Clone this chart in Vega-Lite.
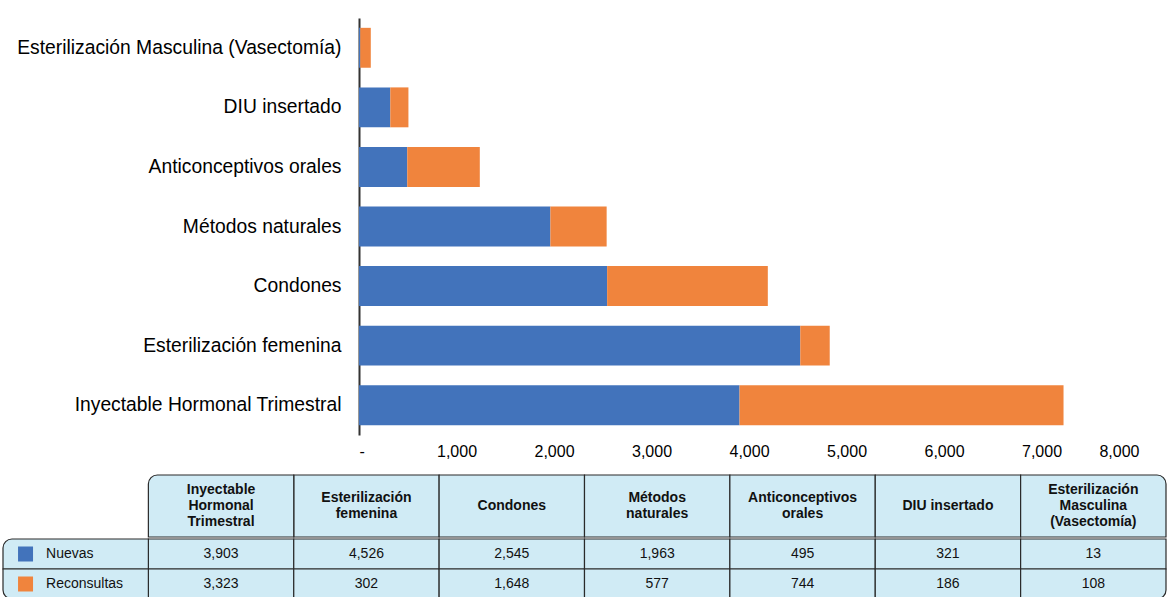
{
  "$schema": "https://vega.github.io/schema/vega-lite/v6.json",
  "padding": {"top": 18, "left": 2, "right": 2, "bottom": 0},
  "background": "white",
  "config": {
    "view": {"stroke": null},
    "font": "Liberation Sans",
    "text": {"font": "Liberation Sans"},
    "rect": {"fill": "#D0EBF5", "stroke": "#2a2a2a", "strokeWidth": 1.2}
  },
  "datasets": {
    "bars": [
      {"metodo": "Inyectable Hormonal Trimestral", "serie": "Nuevas", "valor": 3903},
      {"metodo": "Inyectable Hormonal Trimestral", "serie": "Reconsultas", "valor": 3323},
      {"metodo": "Esterilización femenina", "serie": "Nuevas", "valor": 4526},
      {"metodo": "Esterilización femenina", "serie": "Reconsultas", "valor": 302},
      {"metodo": "Condones", "serie": "Nuevas", "valor": 2545},
      {"metodo": "Condones", "serie": "Reconsultas", "valor": 1648},
      {"metodo": "Métodos naturales", "serie": "Nuevas", "valor": 1963},
      {"metodo": "Métodos naturales", "serie": "Reconsultas", "valor": 577},
      {"metodo": "Anticonceptivos orales", "serie": "Nuevas", "valor": 495},
      {"metodo": "Anticonceptivos orales", "serie": "Reconsultas", "valor": 744},
      {"metodo": "DIU insertado", "serie": "Nuevas", "valor": 321},
      {"metodo": "DIU insertado", "serie": "Reconsultas", "valor": 186},
      {"metodo": "Esterilización Masculina (Vasectomía)", "serie": "Nuevas", "valor": 13},
      {"metodo": "Esterilización Masculina (Vasectomía)", "serie": "Reconsultas", "valor": 108}
    ],
    "methods": [
      {"metodo": "Inyectable Hormonal Trimestral", "encabezado": "Inyectable\nHormonal\nTrimestral"},
      {"metodo": "Esterilización femenina", "encabezado": "Esterilización\nfemenina"},
      {"metodo": "Condones", "encabezado": "Condones"},
      {"metodo": "Métodos naturales", "encabezado": "Métodos\nnaturales"},
      {"metodo": "Anticonceptivos orales", "encabezado": "Anticonceptivos\norales"},
      {"metodo": "DIU insertado", "encabezado": "DIU insertado"},
      {"metodo": "Esterilización Masculina (Vasectomía)", "encabezado": "Esterilización\nMasculina\n(Vasectomía)"}
    ],
    "series": [
      {"serie": "Nuevas"},
      {"serie": "Reconsultas"}
    ]
  },
  "spacing": 15,
  "vconcat": [
    {
      "width": 780,
      "height": 417,
      "data": {"name": "bars"},
      "mark": {"type": "bar"},
      "encoding": {
        "y": {
          "field": "metodo",
          "type": "nominal",
          "sort": [
            "Esterilización Masculina (Vasectomía)",
            "DIU insertado",
            "Anticonceptivos orales",
            "Métodos naturales",
            "Condones",
            "Esterilización femenina",
            "Inyectable Hormonal Trimestral"
          ],
          "scale": {"paddingInner": 0.33, "paddingOuter": 0.165},
          "axis": {
            "title": null,
            "domainColor": "#333333",
            "domainWidth": 2,
            "ticks": false,
            "labelPadding": 18,
            "labelFontSize": 19.3,
            "labelColor": "#000000",
            "labelFont": "Liberation Sans",
            "labelLimit": 400,
            "minExtent": 356,
            "maxExtent": 356
          }
        },
        "x": {
          "field": "valor",
          "type": "quantitative",
          "aggregate": "sum",
          "stack": "zero",
          "scale": {"domain": [0, 8000], "nice": false},
          "axis": {
            "title": null,
            "domain": false,
            "ticks": false,
            "grid": false,
            "values": [0, 1000, 2000, 3000, 4000, 5000, 6000, 7000, 8000],
            "labelExpr": "datum.value == 0 ? '-' : format(datum.value, ',')",
            "labelFontSize": 16,
            "labelColor": "#000000",
            "labelPadding": 8,
            "labelFont": "Liberation Sans"
          }
        },
        "color": {
          "field": "serie",
          "type": "nominal",
          "scale": {"domain": ["Nuevas", "Reconsultas"], "range": ["#4273BB", "#F0843D"]},
          "legend": null
        },
        "order": {"field": "serie", "sort": "ascending"}
      }
    },
    {
      "spacing": 0,
      "vconcat": [
        {
          "width": 807,
          "height": 62,
          "data": {"name": "methods"},
          "encoding": {
            "x": {
              "field": "metodo",
              "type": "nominal",
              "sort": null,
              "scale": {
                "domain": ["__", "Inyectable Hormonal Trimestral", "Esterilización femenina", "Condones", "Métodos naturales", "Anticonceptivos orales", "DIU insertado", "Esterilización Masculina (Vasectomía)"],
                "range": [-356, 807],
                "paddingInner": 0,
                "paddingOuter": 0
              },
              "axis": null
            }
          },
          "layer": [
            {
              "transform": [{"filter": "datum.metodo != 'Inyectable Hormonal Trimestral' && datum.metodo != 'Esterilización Masculina (Vasectomía)'"}],
              "mark": {"type": "rect"},
              "encoding": {}
            },
            {
              "transform": [{"filter": "datum.metodo == 'Inyectable Hormonal Trimestral'"}],
              "mark": {"type": "rect", "cornerRadiusTopLeft": 9},
              "encoding": {}
            },
            {
              "transform": [{"filter": "datum.metodo == 'Esterilización Masculina (Vasectomía)'"}],
              "mark": {"type": "rect", "cornerRadiusTopRight": 9},
              "encoding": {}
            },
            {
              "transform": [{"filter": "length(split(datum.encabezado, '\\n')) == 1"}],
              "mark": {"type": "text", "fontWeight": "bold", "fontSize": 14, "lineBreak": "\n", "lineHeight": 16, "baseline": "middle", "color": "#111111"},
              "encoding": {"text": {"field": "encabezado"}}
            },
            {
              "transform": [{"filter": "length(split(datum.encabezado, '\\n')) == 2"}],
              "mark": {"type": "text", "fontWeight": "bold", "fontSize": 14, "lineBreak": "\n", "lineHeight": 16, "baseline": "middle", "dy": -8, "color": "#111111"},
              "encoding": {"text": {"field": "encabezado"}}
            },
            {
              "transform": [{"filter": "length(split(datum.encabezado, '\\n')) == 3"}],
              "mark": {"type": "text", "fontWeight": "bold", "fontSize": 14, "lineBreak": "\n", "lineHeight": 16, "baseline": "middle", "dy": -16, "color": "#111111"},
              "encoding": {"text": {"field": "encabezado"}}
            }
          ]
        },
        {
          "width": 807,
          "height": 60,
          "encoding": {
            "y": {
              "field": "serie",
              "type": "nominal",
              "scale": {"domain": ["Nuevas", "Reconsultas"], "paddingInner": 0, "paddingOuter": 0},
              "axis": null
            }
          },
          "layer": [
            {
              "data": {"name": "bars"},
              "transform": [{"filter": "!(datum.metodo == 'Esterilización Masculina (Vasectomía)' && datum.serie == 'Reconsultas')"}],
              "mark": {"type": "rect"},
              "encoding": {
                "x": {
                  "field": "metodo",
                  "type": "nominal",
                  "scale": {
                    "domain": ["__", "Inyectable Hormonal Trimestral", "Esterilización femenina", "Condones", "Métodos naturales", "Anticonceptivos orales", "DIU insertado", "Esterilización Masculina (Vasectomía)"],
                    "range": [-356, 807],
                    "paddingInner": 0,
                    "paddingOuter": 0
                  },
                  "axis": null
                }
              }
            },
            {
              "data": {"name": "bars"},
              "transform": [{"filter": "datum.metodo == 'Esterilización Masculina (Vasectomía)' && datum.serie == 'Reconsultas'"}],
              "mark": {"type": "rect", "cornerRadiusBottomRight": 9},
              "encoding": {
                "x": {"field": "metodo", "type": "nominal"}
              }
            },
            {
              "data": {"name": "series"},
              "transform": [{"filter": "datum.serie == 'Nuevas'"}],
              "mark": {"type": "rect", "cornerRadiusTopLeft": 9},
              "encoding": {
                "x": {"datum": "__", "type": "nominal"}
              }
            },
            {
              "data": {"name": "series"},
              "transform": [{"filter": "datum.serie == 'Reconsultas'"}],
              "mark": {"type": "rect", "cornerRadiusBottomLeft": 9},
              "encoding": {
                "x": {"datum": "__", "type": "nominal"}
              }
            },
            {
              "data": {"name": "bars"},
              "mark": {"type": "text", "fontSize": 14, "baseline": "middle", "color": "#111111"},
              "encoding": {
                "x": {"field": "metodo", "type": "nominal"},
                "text": {"field": "valor", "type": "quantitative", "format": ","}
              }
            },
            {
              "data": {"name": "series"},
              "mark": {"type": "point", "shape": "square", "filled": true, "size": 225, "opacity": 1},
              "encoding": {
                "x": {"datum": "__", "type": "nominal", "bandPosition": 0.155},
                "color": {"field": "serie", "type": "nominal", "scale": {"domain": ["Nuevas", "Reconsultas"], "range": ["#4273BB", "#F0843D"]}, "legend": null}
              }
            },
            {
              "data": {"name": "series"},
              "mark": {"type": "text", "fontSize": 14, "align": "left", "baseline": "middle", "color": "#111111"},
              "encoding": {
                "x": {"datum": "__", "type": "nominal", "bandPosition": 0.296},
                "text": {"field": "serie"}
              }
            }
          ]
        }
      ]
    }
  ]
}
